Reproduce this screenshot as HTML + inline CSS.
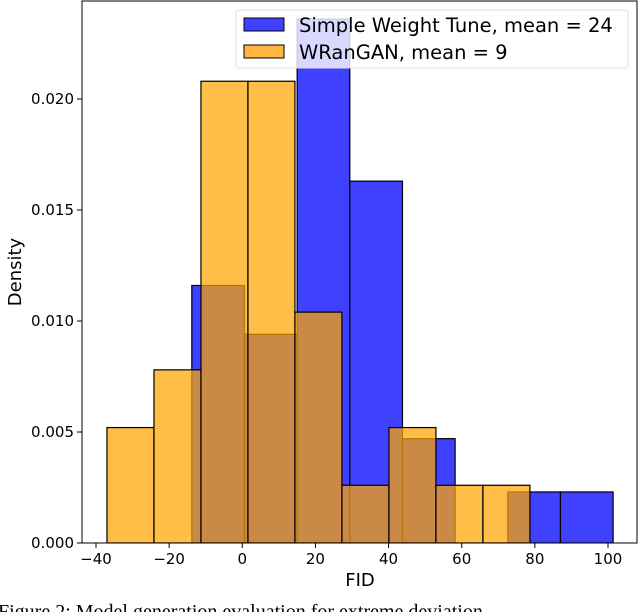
<!DOCTYPE html>
<html><head><meta charset="utf-8"><style>
html,body{margin:0;padding:0;background:#fff;overflow:hidden}
svg{display:block}
text{font-family:"DejaVu Sans","Liberation Sans",sans-serif;fill:#000}
</style></head><body>
<svg id="chart" width="640" height="612"></svg>
<script>
const xTicks=[-40,-20,0,20,40,60,80,100];
const yTicks=[0,0.005,0.010,0.015,0.020];
const yTickLabels=["0.000","0.005","0.010","0.015","0.020"];
const blueStart=-13.8, blueWidth=14.4;
const blueValues=[0.0116,0.0094,0.0236,0.0163,0.0047,0,0.0023,0.0023];
const orangeStart=-37.0, orangeWidth=12.85;
const orangeValues=[0.0052,0.0078,0.0208,0.0208,0.0104,0.0026,0.0052,0.0026,0.0026];
const L=82,R=637,T=1,B=543;
const x=v=>96+(v+40)*512/140;
const y=v=>B-v*22200;
const NS="http://www.w3.org/2000/svg";
const svg=document.getElementById('chart');
function mk(t,a,p){const e=document.createElementNS(NS,t);for(const k in a)e.setAttribute(k,a[k]);(p||svg).appendChild(e);return e;}
const clip=mk('clipPath',{id:'pc'});mk('rect',{x:L,y:T,width:R-L,height:B-T},clip);
const g=mk('g',{'clip-path':'url(#pc)'});
blueValues.forEach((v,i)=>{if(v<=0)return;const x0=x(blueStart+i*blueWidth),x1=x(blueStart+(i+1)*blueWidth);
const r=mk('rect',{x:x0,y:y(v),width:x1-x0,height:B-y(v),fill:'rgb(64,64,255)',stroke:'#000','stroke-width':1.2},g);

});
orangeValues.forEach((v,i)=>{const x0=x(orangeStart+i*orangeWidth),x1=x(orangeStart+(i+1)*orangeWidth);
const r=mk('rect',{x:x0,y:y(v),width:x1-x0,height:B-y(v),fill:'rgb(255,165,0)','fill-opacity':0.72,stroke:'#000','stroke-width':1.2},g);

});
mk('rect',{x:L,y:T,width:R-L,height:B-T,fill:'none',stroke:'#000','stroke-width':1});
xTicks.forEach(v=>{mk('line',{x1:x(v),x2:x(v),y1:B,y2:B+5,stroke:'#000'});
const t=mk('text',{x:x(v),y:B+21,'text-anchor':'middle','font-size':15});t.textContent=(v<0?'\u2212'+(-v):v);

});
yTicks.forEach((v,i)=>{mk('line',{x1:L-5,x2:L,y1:y(v),y2:y(v),stroke:'#000'});
const t=mk('text',{x:L-8,y:y(v)+5,'text-anchor':'end','font-size':15});t.textContent=yTickLabels[i];

});
const xl=mk('text',{x:360,y:586,'text-anchor':'middle','font-size':18});xl.textContent='FID';

const yl=mk('text',{x:21,y:272,'text-anchor':'middle','font-size':18,transform:'rotate(-90 21 272)'});yl.textContent='Density';

const lg=mk('g',{});
mk('rect',{x:236,y:10,width:392,height:58,rx:3,fill:'#fff','fill-opacity':0.8,stroke:'#ddd'},lg);
mk('rect',{x:244,y:18,width:40,height:13,fill:'rgb(64,64,255)',stroke:'#000'},lg);
mk('rect',{x:244,y:45,width:40,height:13,fill:'rgb(255,183,64)',stroke:'#000'},lg);
const l1=mk('text',{x:299,y:32,'font-size':19.5},lg);l1.textContent='Simple Weight Tune, mean = 24';

const l2=mk('text',{x:299,y:59,'font-size':19.5},lg);l2.textContent='WRanGAN, mean = 9';

const cap=mk('text',{x:-2,y:618,'font-size':20,style:'font-family:"Liberation Serif",serif'});
cap.textContent='Figure 2:  Model generation evaluation for extreme deviation';

</script>
</body></html>
